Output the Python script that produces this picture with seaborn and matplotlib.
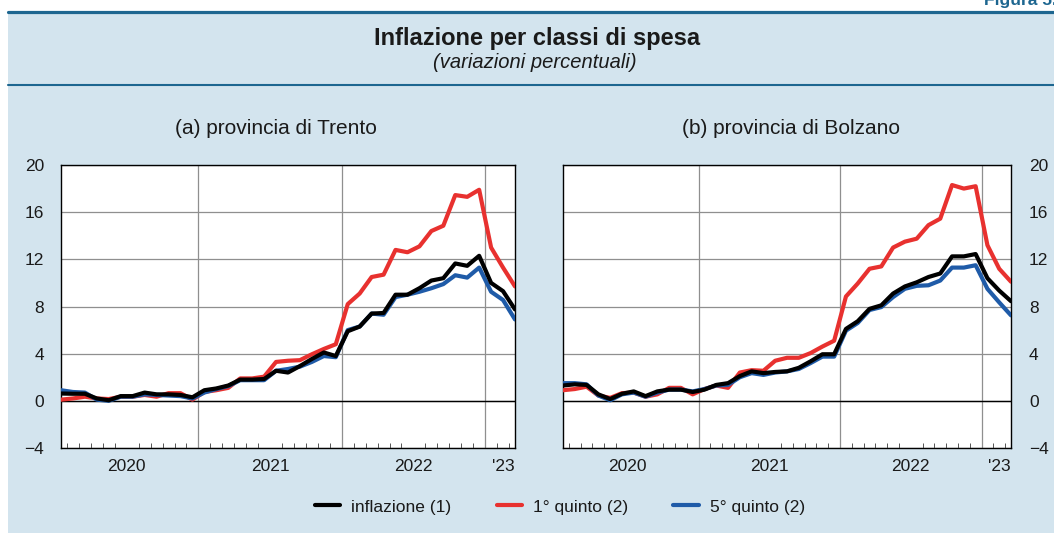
import numpy as np
import pandas as pd
import matplotlib
matplotlib.use("Agg")
import matplotlib.pyplot as plt
from matplotlib.patches import Rectangle
from matplotlib.lines import Line2D
import seaborn as sns

# ---------------- data (monthly, Jan 2020 - Mar 2023) ----------------
months = pd.date_range("2020-01-01", "2023-03-01", freq="MS").strftime("%Y-%m").tolist()

trento_infl = [0.62, 0.6, 0.6, 0.2, 0.05, 0.4, 0.4, 0.7, 0.55, 0.55, 0.5, 0.3,
               0.9, 1.05, 1.3, 1.8, 1.8, 1.85, 2.55, 2.4, 2.95, 3.55, 4.1, 3.8,
               5.9, 6.3, 7.4, 7.45, 9.0, 9.0, 9.55, 10.2, 10.4, 11.65, 11.45, 12.3,
               10.0, 9.3, 7.75]
trento_q1 = [0.1, 0.2, 0.35, 0.2, 0.15, 0.35, 0.35, 0.5, 0.35, 0.65, 0.65, 0.1,
             0.75, 0.9, 1.1, 1.9, 1.9, 2.05, 3.3, 3.4, 3.45, 3.95, 4.4, 4.8,
             8.2, 9.1, 10.5, 10.7, 12.8, 12.6, 13.1, 14.4, 14.85, 17.45, 17.3, 17.9,
             13.0, 11.3, 9.7]
trento_q5 = [0.9, 0.75, 0.7, 0.1, 0.0, 0.35, 0.35, 0.55, 0.5, 0.45, 0.4, 0.2,
             0.7, 1.0, 1.25, 1.75, 1.75, 1.75, 2.55, 2.7, 2.9, 3.3, 3.8, 3.7,
             6.0, 6.3, 7.4, 7.3, 8.8, 9.0, 9.25, 9.55, 9.9, 10.65, 10.45, 11.3,
             9.25, 8.55, 6.9]

bolzano_infl = [1.3, 1.4, 1.35, 0.55, 0.15, 0.6, 0.8, 0.4, 0.8, 0.95, 0.95, 0.75,
                0.95, 1.35, 1.5, 2.1, 2.5, 2.35, 2.45, 2.5, 2.8, 3.35, 3.95, 3.95,
                6.1, 6.75, 7.8, 8.1, 9.1, 9.7, 10.05, 10.5, 10.8, 12.25, 12.25, 12.45,
                10.4, 9.35, 8.45]
bolzano_q1 = [0.9, 1.0, 1.2, 0.45, 0.25, 0.65, 0.7, 0.35, 0.55, 1.1, 1.1, 0.55,
              1.0, 1.3, 1.1, 2.4, 2.6, 2.55, 3.4, 3.65, 3.65, 4.05, 4.6, 5.1,
              8.85, 9.95, 11.2, 11.4, 13.0, 13.5, 13.75, 14.9, 15.45, 18.3, 18.0, 18.2,
              13.2, 11.2, 10.1]
bolzano_q5 = [1.5, 1.5, 1.4, 0.45, 0.05, 0.55, 0.7, 0.35, 0.7, 0.95, 0.95, 0.8,
              1.0, 1.3, 1.35, 2.0, 2.35, 2.2, 2.4, 2.5, 2.7, 3.2, 3.75, 3.75,
              5.95, 6.6, 7.7, 7.95, 8.8, 9.5, 9.75, 9.8, 10.2, 11.3, 11.3, 11.5,
              9.5, 8.35, 7.25]

series_names = ["inflazione (1)", "1° quinto (2)", "5° quinto (2)"]
panel_titles = ["(a) provincia di Trento", "(b) provincia di Bolzano"]
year_labels = ["2020", "2021", "2022", "'23"]
ytick_values = [-4, 0, 4, 8, 12, 16, 20]

colors = {"inflazione (1)": "#000000", "1° quinto (2)": "#e8312f", "5° quinto (2)": "#1f5ba8"}
bg = "#d3e4ee"
rule = "#1d6690"
txt = "#1a1a1a"

# ---------------- figure ----------------
sns.set_theme(style="white")
plt.rcParams["font.family"] = ["Liberation Sans", "DejaVu Sans"]

W, H = 1054, 533
fig = plt.figure(figsize=(W / 100, H / 100), dpi=100, facecolor="white")

fig.patches.append(Rectangle((8 / W, 0), 1 - 8 / W, 1 - 11 / H, transform=fig.transFigure,
                             facecolor=bg, edgecolor="none", zorder=-10))
fig.add_artist(Line2D([8 / W, 1], [1 - 11.5 / H] * 2, transform=fig.transFigure,
                      color=rule, lw=2.3, zorder=-5))
fig.add_artist(Line2D([8 / W, 1], [1 - 84.5 / H] * 2, transform=fig.transFigure,
                      color=rule, lw=1.5, zorder=-5))

fig.text(1.003, 1 - 5 / H, "Figura 5.", ha="right", va="baseline", fontsize=12.5,
         fontweight="bold", color=rule)
fig.text(537 / W, 1 - 38 / H, "Inflazione per classi di spesa", ha="center", va="center",
         fontsize=17, fontweight="bold", color=txt)
fig.text(535 / W, 1 - 62 / H, "(variazioni percentuali)", ha="center", va="center",
         fontsize=14.5, fontstyle="italic", color=txt)

panels = [
    (panel_titles[0], trento_infl, trento_q1, trento_q5, 61, 515, "left", 276),
    (panel_titles[1], bolzano_infl, bolzano_q1, bolzano_q5, 563, 1011, "right", 791),
]

top_px, bot_px = 165, 448
n = len(months)
for title, infl, q1, q5, x0, x1, side, tx in panels:
    ax = fig.add_axes([x0 / W, 1 - bot_px / H, (x1 - x0) / W, (bot_px - top_px) / H])
    ax.set_facecolor("white")
    df = pd.DataFrame({
        "idx": list(range(n)) * 3,
        "val": list(q1) + list(q5) + list(infl),
        "serie": [series_names[1]] * n + [series_names[2]] * n + [series_names[0]] * n,
    })
    sns.lineplot(data=df, x="idx", y="val", hue="serie", palette=colors,
                 hue_order=[series_names[1], series_names[2], series_names[0]],
                 linewidth=3.0, ax=ax, legend=False, zorder=3)
    ax.set_xlim(0, n - 1)
    ax.set_ylim(-4, 20)
    ax.set_yticks(ytick_values)
    ax.grid(axis="y", color="#8f8f8f", lw=0.9)
    ax.grid(axis="x", visible=False)
    for b in (11.5, 23.5, 35.5):
        ax.axvline(b, color="#8f8f8f", lw=0.9, zorder=1)
    ax.axhline(0, color="black", lw=1.0, zorder=2)
    ax.set_xticks([5.5, 17.5, 29.5, 37])
    ax.set_xticklabels(year_labels)
    ax.set_xticks([i + 0.5 for i in range(n - 1)], minor=True)
    ax.tick_params(axis="x", which="major", length=0, pad=8, labelsize=12.5, colors=txt)
    ax.tick_params(axis="x", which="minor", direction="in", length=3.5, width=0.7,
                   color="#555555", bottom=True)
    ax.tick_params(axis="y", length=0, pad=12, labelsize=12.5, colors=txt)
    if side == "right":
        ax.yaxis.tick_right()
        ax.tick_params(axis="y", length=0, pad=13)
    ax.set_xlabel("")
    ax.set_ylabel("")
    for s in ax.spines.values():
        s.set_color("black")
        s.set_linewidth(1.0)
    ax.set_title(title, fontsize=15, pad=22, color=txt, x=(tx - x0) / (x1 - x0))

handles = [Line2D([], [], color=colors[s], lw=3.0) for s in series_names]
fig.legend(handles, series_names, loc="center", bbox_to_anchor=(560 / W, 1 - 507 / H),
           ncol=3, frameon=False, fontsize=12.5, handlelength=1.45, handletextpad=0.65,
           columnspacing=2.6, labelcolor=txt)

fig.savefig("out.png", dpi=100, facecolor=fig.get_facecolor())
